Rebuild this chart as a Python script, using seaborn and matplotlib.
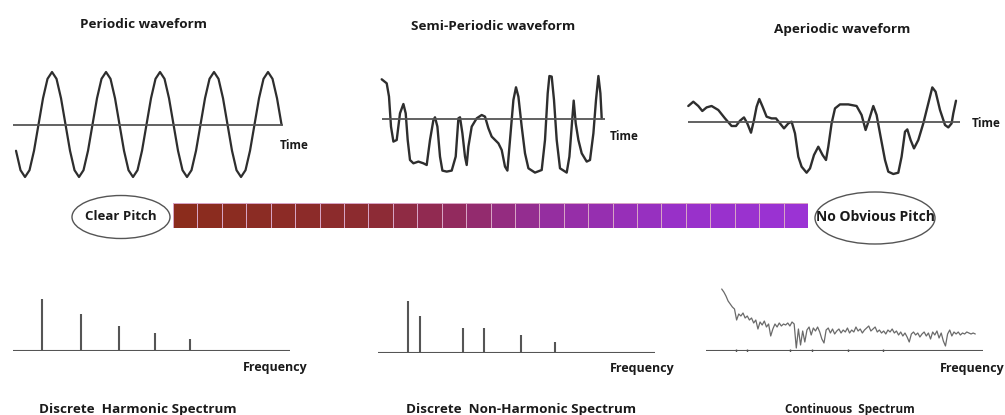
import seaborn as sns
import matplotlib.pyplot as plt
import numpy as np
from matplotlib.colors import LinearSegmentedColormap
from matplotlib.patches import Ellipse

sns.set_style("white")
plt.rcParams["font.family"] = ["Open Sans", "DejaVu Sans"]

# ---- data ----
# periodic waveform, samples every 1/12 period (normalised amplitude)
periodic_amp = [-0.5, -0.87, -1, -0.87, -0.5, 0, 0.5, 0.87, 1, 0.87, 0.5, 0,
                -0.5, -0.87, -1, -0.87, -0.5, 0, 0.5, 0.87, 1, 0.87, 0.5, 0,
                -0.5, -0.87, -1, -0.87, -0.5, 0, 0.5, 0.87, 1, 0.87, 0.5, 0,
                -0.5, -0.87, -1, -0.87, -0.5, 0, 0.5, 0.87, 1, 0.87, 0.5, 0,
                -0.5, -0.87, -1, -0.87, -0.5, 0, 0.5, 0.87, 1, 0.87, 0.5, 0]

# semi-periodic waveform (time, amplitude)
semi_t = [0, 5, 7.3, 9.3, 11.7, 15, 18.3, 21.7, 24, 26, 28.3, 31.7, 36.7, 41.7, 45,
          48.3, 51.7, 53.3, 55.7, 58.3, 60.7, 65, 70, 74, 76.7, 78.3, 80.7, 83.3, 85,
          86.7, 90, 95, 100, 103.3, 106.7, 110, 116.7, 120, 123.3, 125.7, 128.3, 131.7,
          134.3, 136.7, 140, 143.3, 146.7, 153.3, 160, 163.3, 166, 167.7, 170, 172.3,
          175, 178.3, 185, 187.7, 190, 192, 194, 196.7, 200, 205, 208.3, 211.7, 214.3,
          216.7, 218.7, 220]
semi_a = [40, 36, 22.7, -7.3, -22.3, -20.7, 6, 15.3, 6, -20.7, -40.7, -44, -42.3, -44,
          -45.7, -20.7, -0.7, 2, -7.3, -37.3, -51.3, -52.3, -51.3, -37.3, 1, 2, -14,
          -37.3, -45.7, -27.3, -7.3, 1, 4.3, 2.7, -9, -17.3, -24, -30.7, -47.3, -51.3,
          -20.7, 19.3, 32, 22.7, -7.3, -34, -49, -53.3, -50.7, -20.7, 26, 43.3, 42.7,
          19.3, -20.7, -49, -53.3, -37.3, -7.3, 18.7, -4, -20.7, -34, -42.3, -40.7,
          -14, 19.3, 43.3, 26, 1]

# aperiodic waveform (time, amplitude)
aper_t = [0, 5, 10, 14, 18.3, 23.3, 30, 36.7, 43.3, 47.7, 51.7, 55.7, 59, 62.7, 65.7,
          68.3, 71, 74.3, 78.3, 83.3, 87.7, 91.7, 95.7, 100, 103.3, 106.7, 110, 113.3,
          118.3, 121.7, 125.7, 130, 134.3, 137.7, 140, 143.3, 146.7, 151.7, 160, 168.3,
          173.3, 177.3, 180.7, 185, 188.3, 192.3, 196.7, 200, 205, 210, 213.3, 216.7,
          219, 222.3, 225.7, 230, 235, 240, 244, 247.3, 251.7, 256.7, 260, 263.3, 265,
          267.7]
aper_a = [15.7, 20, 15.7, 10.7, 14.3, 15.7, 11.7, 3.3, -4.3, -4.3, 1, 4.3, -1.7, -11,
          1.7, 15, 22.7, 15, 5, 3.3, 3.3, -1.7, -6.7, -1.7, 0, -11.7, -35, -45, -51,
          -46.7, -33.3, -25, -33.3, -38.3, -25, -1.7, 13.3, 17.3, 17.3, 15.7, 6.7, -8.3,
          1.7, 15.7, 6.7, -15, -38.3, -50, -52.3, -51, -35, -10, -7.7, -18.3, -26.7,
          -18.3, -1.7, 18.3, 34.3, 30, 11.7, -3.3, -5.7, -1.7, 8.3, 21]

# discrete harmonic spectrum
harm_freq = [29, 68, 106, 142, 177]
harm_amp = [52, 37, 25, 18, 12]

# discrete non-harmonic spectrum
nonharm_freq = [30, 42, 85, 106, 143, 177]
nonharm_amp = [52, 37, 25, 25, 18, 11]

# continuous spectrum
cont_amp = [62, 59, 55, 50, 47, 44, 42, 31, 37, 35, 38, 33, 35, 31, 33, 28, 31, 22, 29, 26,
            30, 24, 27, 15, 22, 27, 24, 28, 25, 27, 26, 28, 25, 29, 27, 3, 22, 6, 20, 9,
            21, 24, 16, 23, 20, 24, 19, 12, 8, 21, 23, 18, 22, 17, 20, 22, 18, 21, 19, 23,
            18, 21, 19, 24, 20, 22, 18, 21, 23, 25, 20, 22, 24, 19, 21, 18, 20, 17, 21, 19,
            22, 18, 20, 16, 19, 15, 18, 14, 9, 17, 19, 16, 18, 14, 17, 19, 15, 18, 12, 19,
            16, 20, 13, 18, 10, 5, 17, 21, 15, 19, 17, 19, 16, 18, 17, 19, 18, 17, 18, 17]
cont_ticks = [30, 41, 84, 106, 142, 177]

# pitch clarity scale (26 cells, clear -> no pitch)
pitch_steps = list(range(26))

W, H = 1005, 415
fig = plt.figure(figsize=(W / 100, H / 100), dpi=100)

LINE = "#2e2e2e"
AXIS = "#555555"


def px_axes(left, top, right, bottom):
    ax = fig.add_axes([left / W, 1 - bottom / H, (right - left) / W, (bottom - top) / H])
    ax.set_axis_off()
    return ax


# periodic waveform
ax = px_axes(13, 72, 283, 177)
x = np.arange(len(periodic_amp))
sns.lineplot(x=x, y=periodic_amp, ax=ax, color=LINE, lw=1.6, sort=False, clip_on=False)
ax.axhline(0, color=AXIS, lw=1.3)
ax.set_xlim(-0.67, 59.33)
ax.set_ylim(-1, 1)
ax.set_axis_off()

# semi-periodic waveform
ax = px_axes(381.7, 72, 605, 176)
sns.lineplot(x=semi_t, y=semi_a, ax=ax, color=LINE, lw=1.7, sort=False, clip_on=False)
ax.axhline(0, color=AXIS, lw=1.3)
ax.set_xlim(0, 223.3)
ax.set_ylim(-56.7, 47.3)
ax.set_axis_off()

# aperiodic waveform
ax = px_axes(688.3, 70, 960, 178)
sns.lineplot(x=aper_t, y=aper_a, ax=ax, color=LINE, lw=1.7, sort=False, clip_on=False)
ax.axhline(0, color=AXIS, lw=1.3)
ax.set_xlim(0, 271.7)
ax.set_ylim(-56.3, 51.7)
ax.set_axis_off()

# pitch bar
cmap = LinearSegmentedColormap.from_list(
    "pitch",
    [(0, "#8b2c1c"), (0.3, "#8c2b30"), (0.45, "#932a62"),
     (0.6, "#952ea0"), (0.8, "#9830c8"), (1, "#9b33d4")])
ax = px_axes(173, 203, 808, 228)
sns.heatmap(np.array([pitch_steps]), cmap=cmap, cbar=False, linewidths=0.6,
            linecolor="#d7a3c4", xticklabels=False, yticklabels=False, ax=ax)
ax.set_axis_off()

# harmonic spectrum
ax = px_axes(13, 290, 290, 351)
ax.vlines(harm_freq, 0, harm_amp, color=AXIS, lw=1.5)
ax.axhline(0, color=AXIS, lw=1.5)
ax.set_xlim(0, 277)
ax.set_ylim(0, 61)
ax.set_axis_off()

# non-harmonic spectrum
ax = px_axes(378, 292, 655, 353)
ax.vlines(nonharm_freq, 0, nonharm_amp, color=AXIS, lw=1.5)
ax.axhline(0, color=AXIS, lw=1.5)
ax.set_xlim(0, 277)
ax.set_ylim(0, 61)
ax.set_axis_off()

# continuous spectrum
ax = px_axes(706, 285, 983, 351)
f = np.linspace(15.7, 269.3, len(cont_amp))
sns.lineplot(x=f, y=cont_amp, ax=ax, color="#6a6a6a", lw=0.9, sort=False)
ax.axhline(0, color=AXIS, lw=1.5)
ax.plot(cont_ticks, [0] * len(cont_ticks), "|", color=AXIS, ms=3)
ax.set_xlim(0, 277)
ax.set_ylim(0, 66)
ax.set_axis_off()

# text layer in pixel coordinates
ov = fig.add_axes([0, 0, 1, 1], zorder=5)
ov.set_xlim(0, W)
ov.set_ylim(H, 0)
ov.set_axis_off()
ov.patch.set_alpha(0)

bold = dict(fontweight="bold", color="#1a1a1a")
ov.text(144, 25, "Periodic waveform", ha="center", va="center", fontsize=9.7, **bold)
ov.text(493, 27, "Semi-Periodic waveform", ha="center", va="center", fontsize=9.7, **bold)
ov.text(842, 29, "Aperiodic waveform", ha="center", va="center", fontsize=9.7, **bold)
for tx, ty in [(280, 145), (610, 136), (972, 123)]:
    ov.text(tx, ty, "Time", ha="left", va="center", fontsize=8.5, **bold)
for fx, fy in [(243, 367), (610, 368), (940, 368)]:
    ov.text(fx, fy, "Frequency", ha="left", va="center", fontsize=9, **bold)

ov.add_patch(Ellipse((121, 217), 98, 43, fill=False, ec="#555555", lw=1))
ov.text(121, 216, "Clear Pitch", ha="center", va="center", fontsize=9.5, **bold)
ov.add_patch(Ellipse((875, 218), 120, 52, fill=False, ec="#555555", lw=1))
ov.text(875, 217, "No Obvious Pitch", ha="center", va="center", fontsize=10, **bold)

ov.text(137.5, 409, "Discrete  Harmonic Spectrum", ha="center", va="center", fontsize=9.7, **bold)
ov.text(521, 409, "Discrete  Non-Harmonic Spectrum", ha="center", va="center", fontsize=9.7, **bold)
ov.text(850, 409, "Continuous  Spectrum", ha="center", va="center", fontsize=8.5, **bold)

fig.savefig("out.png", dpi=100)
plt.close()
